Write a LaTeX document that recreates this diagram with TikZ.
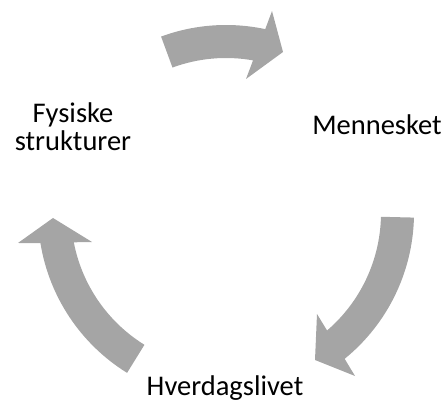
\documentclass[tikz,border=0pt]{standalone}
\usepackage{fontspec}
\setmainfont{Carlito}
\definecolor{cyclegray}{RGB}{165,165,165}
\tikzset{
  cyclearrow/.style={fill=cyclegray, draw=none},
  steplabel/.style={font=\fontsize{28.5}{28.5}\selectfont, text=black, inner sep=0pt, align=center}
}
\begin{document}
\begin{tikzpicture}[x=1pt,y=1pt]
\useasboundingbox (0,0) rectangle (446,401);
% centre of the cycle
\coordinate (c) at (226,188);

% top arrow: Fysiske strukturer -> Mennesket
\fill[cyclearrow]
  ([shift={(c)}]110.2:188pt) arc[start angle=110.2, end angle=77.95, radius=188pt]
  -- ([shift={(c)}]46pt,202pt) -- ([shift={(c)}]57pt,161pt) -- ([shift={(c)}]20pt,134pt)
  -- ([shift={(c)}]79.95:155pt) arc[start angle=79.95, end angle=110.2, radius=155pt]
  -- cycle;

% right arrow: Mennesket -> Hverdagslivet
\fill[cyclearrow]
  ([shift={(c)}]-1.4:188pt) arc[start angle=-1.4, end angle=-50.86, radius=188pt]
  -- ([shift={(c)}]129pt,-163pt) -- ([shift={(c)}]89pt,-147pt) -- ([shift={(c)}]91pt,-101pt)
  -- ([shift={(c)}]-49.3:155pt) arc[start angle=-49.3, end angle=-1.4, radius=155pt]
  -- cycle;

% left arrow: Hverdagslivet -> Fysiske strukturer
\fill[cyclearrow]
  ([shift={(c)}]238.25:188pt) arc[start angle=238.25, end angle=189.2, radius=188pt]
  -- ([shift={(c)}]-208pt,-30pt) -- ([shift={(c)}]-173pt,-5pt) -- ([shift={(c)}]-134pt,-29pt)
  -- ([shift={(c)}]190.9:155pt) arc[start angle=190.9, end angle=238.25, radius=155pt]
  -- cycle;

% labels
\node[steplabel, anchor=base] (fys) at (73,250) {Fysiske\\strukturer};
\node[steplabel, anchor=base] (men) at (377,266) {Mennesket};
\node[steplabel, anchor=base] (hve) at (225,6) {Hverdagslivet};
\end{tikzpicture}
\end{document}
